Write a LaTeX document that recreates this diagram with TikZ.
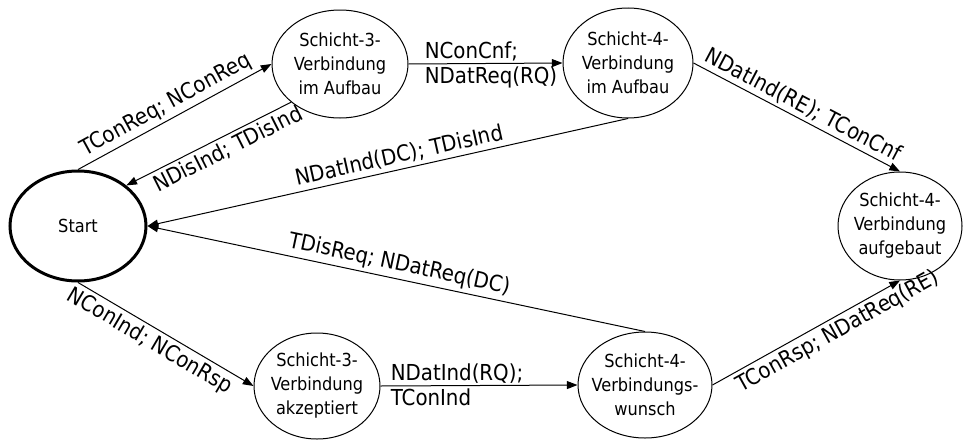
\documentclass[tikz,border=0pt]{standalone}
\usepackage{fontspec}
\setmainfont{DejaVu Sans Condensed}
\usetikzlibrary{shapes.geometric,arrows.meta}

\newcommand{\statefont}{\fontsize{13.5}{18}\selectfont}
\newcommand{\edgefont}{\fontsize{16.5}{19}\selectfont}

\tikzset{
  state/.style={ellipse, draw, line width=0.75pt, inner sep=0pt},
  startstate/.style={state, line width=2.25pt},
  statetext/.style={align=center, inner sep=0pt, font=\statefont},
  tr/.style={line width=0.75pt, -{Triangle[length=8pt,width=6pt]}},
  lbl/.style={font=\edgefont, sloped, inner sep=2.5pt},
  hlbl/.style={font=\edgefont, inner sep=1.5pt}
}

\begin{document}
\begin{tikzpicture}[x=0.75pt,y=-0.75pt]
\useasboundingbox (0,0) rectangle (963,439);

% states
\node[startstate, minimum width=102pt, minimum height=82.5pt] (start) at (78,226) {};
\node[statetext] (start-t) at (start) {Start};

\node[state, minimum width=102pt, minimum height=81pt] (s3a) at (340,64) {};
\node[statetext] (s3a-t) at (s3a) {Schicht-3-\\Verbindung\\im Aufbau};

\node[state, minimum width=97.5pt, minimum height=82.5pt] (s4a) at (628,63) {};
\node[statetext] (s4a-t) at (s4a) {Schicht-4-\\Verbindung\\im Aufbau};

\node[state, minimum width=93pt, minimum height=81pt] (s4e) at (900,226) {};
\node[statetext] (s4e-t) at (s4e) {Schicht-4-\\Verbindung\\aufgebaut};

\node[state, minimum width=94.5pt, minimum height=79.5pt] (s3k) at (317,386) {};
\node[statetext] (s3k-t) at (s3k) {Schicht-3-\\Verbindung\\akzeptiert};

\node[state, minimum width=100.5pt, minimum height=79.5pt] (s4w) at (645,385) {};
\node[statetext] (s4w-t) at (s4w) {Schicht-4-\\Verbindungs-\\wunsch};

% transitions
\draw[tr] (start.north) -- node[lbl, above, pos=0.49] {TConReq; NConReq} (s3a.west);
\draw[tr] (s3a.218) -- node[lbl, below, pos=0.42] {NDisInd; TDisInd} (start.40);
\draw[tr] (s3a.east) --
  node[hlbl, pos=0.09, anchor=south west] {NConCnf;}
  node[hlbl, pos=0.09, anchor=north west] {NDatReq(RQ)} (s4a.west);
\draw[tr] (s4a.south) -- node[lbl, above, pos=0.47] {NDatInd(DC); TDisInd} (start.east);
\draw[tr] (s4a.east) -- node[lbl, above, pos=0.5] {NDatInd(RE); TConCnf} (s4e.north);
\draw[tr] (s4w.north) -- node[lbl, above, pos=0.5] {TDisReq; NDatReq(DC)} (start.east);
\draw[tr] (start.south) -- node[lbl, below, pos=0.45] {NConInd; NConRsp} (s3k.west);
\draw[tr] (s3k.east) --
  node[hlbl, pos=0.04, anchor=south west] {NDatInd(RQ);}
  node[hlbl, pos=0.04, anchor=north west] {TConInd} (s4w.west);
\draw[tr] (s4w.east) -- node[lbl, below, pos=0.63] {TConRsp; NDatReq(RE)} (s4e.south);
\end{tikzpicture}
\end{document}
